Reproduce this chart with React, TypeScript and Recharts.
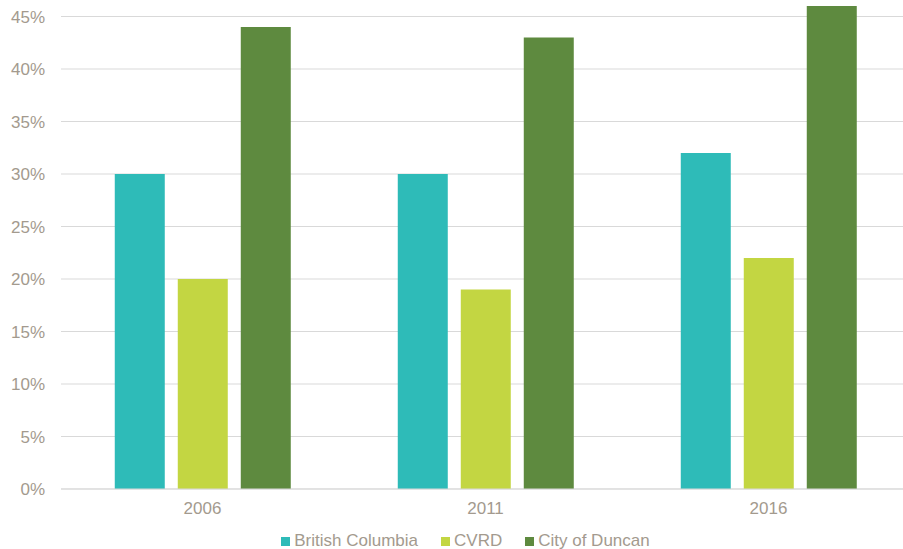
import React from "react";
import {
  Bar,
  BarChart,
  CartesianGrid,
  Legend,
  XAxis,
  YAxis,
} from "recharts";

const years = ["2006", "2011", "2016"];
const britishColumbia = [30, 30, 32];
const cvrd = [20, 19, 22];
const cityOfDuncan = [44, 43, 46];
const yTicks = [0, 5, 10, 15, 20, 25, 30, 35, 40, 45];

const series = [
  { key: "bc", name: "British Columbia", color: "#2EBBB8" },
  { key: "cvrd", name: "CVRD", color: "#C3D642" },
  { key: "duncan", name: "City of Duncan", color: "#5E8A3F" },
];

const data = years.map((year, i) => ({
  year,
  bc: britishColumbia[i],
  cvrd: cvrd[i],
  duncan: cityOfDuncan[i],
}));

const textColor = "#A39A8E";
const font = "'Liberation Sans', Arial, sans-serif";

function ChartLegend() {
  return (
    <div
      style={{
        display: "flex",
        justifyContent: "center",
        paddingLeft: 21,
        fontFamily: font,
        fontSize: 17,
        color: textColor,
        lineHeight: "20px",
      }}
    >
      {series.map((s, i) => (
        <div
          key={s.key}
          style={{ display: "flex", alignItems: "center", marginLeft: i ? 23 : 0 }}
        >
          <span
            style={{ width: 9, height: 9, background: s.color, marginRight: 4, display: "inline-block" }}
          />
          <span>{s.name}</span>
        </div>
      ))}
    </div>
  );
}

export default function App() {
  return (
    <div
      style={{
        position: "fixed",
        left: 0,
        top: 0,
        width: 903,
        height: 549,
        overflow: "hidden",
        background: "#fff",
      }}
    >
      <BarChart
        width={912}
        height={549}
        data={data}
        margin={{ top: 6, right: 2, bottom: -2, left: 0 }}
        barCategoryGap="19%"
        barGap={13}
      >
        {/* syncWithTicks: no extra line at the top edge of the plot */}
        <CartesianGrid vertical={false} stroke="#D9D9D9" syncWithTicks />
        <XAxis
          dataKey="year"
          tickLine={false}
          axisLine={{ stroke: "#D9D9D9" }}
          tick={{ fill: textColor, fontSize: 17, fontFamily: font }}
          tickSize={0}
          tickMargin={13}
          height={42}
        />
        <YAxis
          domain={[0, 46]}
          ticks={yTicks}
          allowDataOverflow
          tickFormatter={(v: number) => `${v}%`}
          tickLine={false}
          axisLine={false}
          tick={{ fill: textColor, fontSize: 17, fontFamily: font }}
          tickSize={0}
          tickMargin={16}
          width={61}
        />
        <Legend verticalAlign="bottom" content={<ChartLegend />} />
        {series.map((s) => (
          <Bar
            key={s.key}
            dataKey={s.key}
            name={s.name}
            fill={s.color}
            isAnimationActive={false}
          />
        ))}
      </BarChart>
    </div>
  );
}
